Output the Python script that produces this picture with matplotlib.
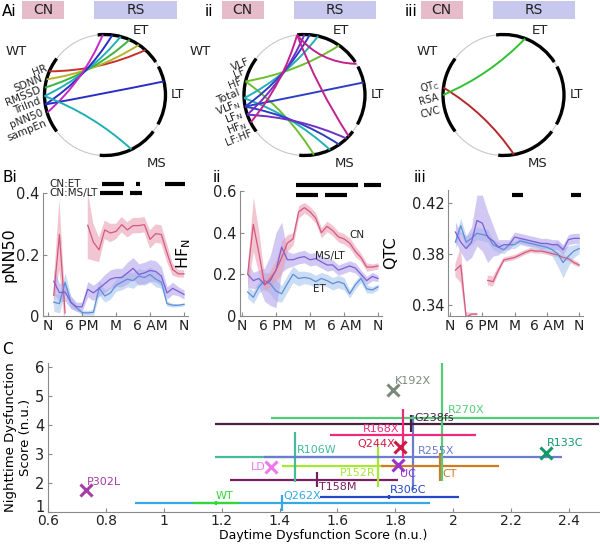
import numpy as np
import matplotlib.pyplot as plt
import matplotlib.transforms as mtransforms
from matplotlib.patches import Arc, Circle, PathPatch, Rectangle
from matplotlib.path import Path

nan = np.nan
W, H = 600, 544

# ---------------- A: chord diagrams ----------------
sectors = {'WT': (143, 217), 'ET': (33, 97), 'LT': (-29, 28), 'MS': (-95, -37)}

ai_labels = ['HR', 'SDNN', 'RMSSD', 'TriInd', 'pNN50', 'sampEn']
ai_links = [('HR', 48, '#c8302c'), ('SDNN', 56, '#b4b42a'), ('RMSSD', 66, '#3cb43c'),
            ('TriInd', 75, '#1eb0b4'), ('pNN50', 83, '#2a2ec4'), ('sampEn', 92, '#c42ac4'),
            ('pNN50', 13, '#2a2ec4'), ('TriInd', -64, '#1eb0b4')]

aii_labels = ['VLF', 'LF', 'HF', 'Total', r'VLF$_\mathregular{N}$', r'LF$_\mathregular{N}$',
              r'HF$_\mathregular{N}$', 'LF:HF']
aii_links = [('HF', 55, '#6cbf2c'), ('HF', -81, '#6cbf2c'),
             (r'VLF$_\mathregular{N}$', 77, '#22b0b8'), (r'VLF$_\mathregular{N}$', -65, '#22b0b8'),
             (r'LF$_\mathregular{N}$', 85, '#2e3ec4'), (r'LF$_\mathregular{N}$', 12, '#2e3ec4'),
             (r'LF$_\mathregular{N}$', -55, '#2e3ec4'),
             (r'HF$_\mathregular{N}$', 90, '#7030c4'), (r'HF$_\mathregular{N}$', -46, '#7030c4'),
             ('LF:HF', 97, '#c0228e'), (97, 31, '#c0228e'), (97, -43, '#c0228e')]

aiii_labels = [r'QT$_\mathregular{C}$', 'RSA', 'CVC']
aiii_links = [(r'QT$_\mathregular{C}$', -80, '#b82828'), ('RSA', 69, '#30c030')]

# ---------------- B: time courses ----------------
hours = list(range(1, 25))
tick_pos = [0, 6, 12, 18, 24]
tick_lab = ['N', '6 PM', 'M', '6 AM', 'N']

cn_pnn = [0.067, 0.265, 0.01, nan, nan, nan, 0.295, 0.24, 0.215, 0.28, 0.27, 0.275, 0.297, 0.28,
          0.294, 0.294, 0.297, 0.249, 0.268, 0.265, 0.205, 0.151, 0.137, 0.137]
cn_pnn_e = [0.04, 0.115, 0.05, nan, nan, nan, 0.11, 0.06, 0.04, 0.03, 0.03, 0.025, 0.025, 0.025,
            0.025, 0.025, 0.025, 0.03, 0.03, 0.03, 0.03, 0.02, 0.012, 0.012]
et_pnn = [0.045, 0.04, 0.11, 0.045, 0.027, 0.011, 0.01, 0.012, 0.092, 0.065, 0.075, 0.1, 0.11, 0.12,
          0.115, 0.13, 0.125, 0.135, 0.12, 0.11, 0.04, 0.035, 0.035, 0.038]
et_pnn_e = [0.03, 0.03, 0.03, 0.02, 0.01, 0.008, 0.008, 0.01, 0.025, 0.02, 0.02, 0.02, 0.025, 0.025,
            0.025, 0.025, 0.025, 0.025, 0.025, 0.02, 0.008, 0.006, 0.005, 0.005]
ms_pnn = [0.113, 0.076, 0.078, 0.045, 0.03, 0.03, 0.087, 0.075, 0.09, 0.105, 0.12, 0.125, 0.125, 0.14,
          0.155, 0.135, 0.14, 0.148, 0.145, 0.13, 0.075, 0.09, 0.08, 0.07]
ms_pnn_e = [0.04, 0.03, 0.03, 0.02, 0.015, 0.015, 0.025, 0.025, 0.025, 0.03, 0.03, 0.03, 0.03, 0.035,
            0.035, 0.035, 0.035, 0.035, 0.035, 0.03, 0.02, 0.02, 0.015, 0.015]

cn_hf = [0.2, 0.44, 0.3, 0.15, 0.18, 0.22, 0.28, 0.35, 0.37, 0.5, 0.52, 0.5, 0.47, 0.4, 0.43, 0.41,
         0.38, 0.37, 0.35, 0.31, 0.28, 0.235, 0.235, 0.24]
cn_hf_e = [0.06, 0.13, 0.1, 0.03, 0.04, 0.05, 0.08, 0.04, 0.03, 0.03, 0.025, 0.025, 0.025, 0.025,
           0.025, 0.025, 0.025, 0.025, 0.025, 0.025, 0.02, 0.02, 0.015, 0.015]
ms_hf = [0.2, 0.17, 0.18, 0.15, 0.17, 0.22, 0.33, 0.27, 0.27, 0.28, 0.285, 0.27, 0.275, 0.26, 0.245,
         0.245, 0.22, 0.23, 0.24, 0.23, 0.2, 0.17, 0.19, 0.18]
ms_hf_e = [0.06, 0.04, 0.04, 0.08, 0.12, 0.18, 0.12, 0.04, 0.03, 0.03, 0.03, 0.03, 0.03, 0.03, 0.03,
           0.025, 0.025, 0.025, 0.025, 0.025, 0.02, 0.02, 0.02, 0.015]
et_hf = [0.115, 0.09, 0.14, 0.17, 0.155, 0.12, 0.107, 0.155, 0.2, 0.18, 0.185, 0.18, 0.165, 0.18,
         0.17, 0.155, 0.165, 0.155, 0.107, 0.15, 0.18, 0.13, 0.125, 0.14]
et_hf_e = [0.03, 0.03, 0.03, 0.04, 0.05, 0.05, 0.04, 0.04, 0.04, 0.035, 0.03, 0.03, 0.03, 0.03, 0.03,
           0.03, 0.03, 0.03, 0.02, 0.02, 0.02, 0.02, 0.015, 0.015]

cn_qt = [0.367, 0.371, 0.33, 0.3325, 0.3325, nan, 0.359, 0.358, 0.367, 0.375, 0.376, 0.377, 0.379,
         0.381, 0.3826, 0.382, 0.382, 0.381, 0.38, 0.379, 0.377, 0.376, 0.373, 0.371]
cn_qt_e = [0.005, 0.014, 0.004, 0.001, 0.001, nan, 0.004, 0.004, 0.003, 0.002, 0.002, 0.002, 0.002,
           0.002, 0.002, 0.002, 0.002, 0.002, 0.002, 0.002, 0.002, 0.002, 0.002, 0.002]
et_qt = [0.389, 0.402, 0.389, 0.392, 0.396, 0.395, 0.394, 0.387, 0.385, 0.383, 0.387, 0.387, 0.39,
         0.389, 0.388, 0.387, 0.386, 0.385, 0.383, 0.38, 0.373, 0.378, 0.382, 0.384]
et_qt_e = [0.005, 0.006, 0.005, 0.005, 0.005, 0.005, 0.005, 0.004, 0.004, 0.003, 0.003, 0.003, 0.003,
           0.003, 0.003, 0.003, 0.003, 0.004, 0.005, 0.01, 0.012, 0.008, 0.005, 0.004]
ms_qt = [0.397, 0.389, 0.384, 0.389, 0.406, 0.404, 0.393, 0.39, 0.385, 0.387, 0.387, 0.393, 0.392,
         0.391, 0.39, 0.389, 0.388, 0.388, 0.387, 0.387, 0.383, 0.391, 0.392, 0.392]
ms_qt_e = [0.008, 0.008, 0.01, 0.012, 0.02, 0.022, 0.02, 0.012, 0.006, 0.004, 0.004, 0.004, 0.004,
           0.004, 0.004, 0.004, 0.004, 0.004, 0.004, 0.004, 0.004, 0.004, 0.004, 0.004]

sig_pnn = {'CN:ET': [(9.5, 13.4), (15.5, 16.2), (20.6, 24.2)], 'CN:MS/LT': [(9.2, 13.3), (14.5, 16.5)]}
sig_hf = [[(9.6, 20.5), (21.6, 24.6)], [(9.6, 13.4), (14.6, 18.6)]]
sig_qt = [[(11.6, 13.6), (22.5, 24.4)]]

# ---------------- C: dysfunction scores ----------------
c_names = ['Q262X', 'WT', 'R306C', 'T158M', 'P152R', 'R106W', 'R255X', 'CT', 'G238fs', 'R270X',
           'R168X', 'P302L', 'LD', 'K192X', 'Q244X', 'UC', 'R133C']
c_x = [1.41, 1.18, 1.78, 1.53, 1.74, 1.455, 1.862, 1.955, 1.855, 1.962, 1.828, 0.73, 1.372, 1.793,
       1.817, 1.81, 2.32]
c_y = [1.31, 1.31, 1.52, 2.1, 2.59, 2.9, 2.9, 2.59, 4.05, 4.24, 3.65, 1.75, 2.55, 5.2, 3.24, 2.62, 3.04]
c_xlo = [0.90, 1.10, 1.54, 1.23, 1.41, 1.176, 1.345, 1.75, 1.176, 1.369, 1.575, nan, nan, nan, nan, nan, nan]
c_xhi = [1.92, 1.26, 2.02, 1.81, 1.76, 1.75, 2.377, 2.16, 2.6, 2.6, 2.08, nan, nan, nan, nan, nan, nan]
c_ylo = [1.02, 1.25, 1.45, 1.86, 1.86, 2.03, 1.76, 2.07, 3.76, 2.07, 2.85, nan, nan, nan, nan, nan, nan]
c_yhi = [1.6, 1.37, 1.59, 2.38, 3.24, 3.77, 4.34, 3.03, 4.34, 6.4, 4.55, nan, nan, nan, nan, nan, nan]
c_colors = ['#35a8e6', '#35d635', '#2448cc', '#7a1f5f', '#a6e834', '#45bb9b', '#6c7cd0', '#d27a20',
            '#47203f', '#55cc78', '#ee2a7c', '#a63ca8', '#ee77ee', '#7a8a7a', '#cc1a44', '#9a33cc',
            '#119966']
# label offsets in points and alignment
c_lab_off = [(1, 5), (0, 5), (0, 5), (1, -5), (-2, -5), (1, 5), (3, 4.5), (1.5, -6), (2, 4),
             (4, 6), (-3, 4.5), (1, 6), (-4, 0), (1.5, 6.5), (-4, 2), (1, -6.5), (1, 7)]
c_lab_ha = ['left', 'left', 'left', 'left', 'right', 'left', 'left', 'left', 'left', 'left',
            'right', 'left', 'right', 'left', 'right', 'left', 'left']

# ---------------- drawing ----------------
fig = plt.figure(figsize=(W / 100, H / 100), dpi=100)
plt.rcParams['font.family'] = 'DejaVu Sans'


def px_rect(x0, y0, x1, y1):
    return [x0 / W, 1 - y1 / H, (x1 - x0) / W, (y1 - y0) / H]


R = 60.5


def unit(a):
    return np.array([np.cos(np.radians(a)), np.sin(np.radians(a))])


def chord_panel(cx, labels, links, a0, astep, t0, tstep, rot, fs, wt_x, ms_x):
    cy = 95
    ext = 1.75
    ax = fig.add_axes(px_rect(cx - ext * R, cy - ext * R, cx + ext * R, cy + ext * R))
    ax.set_xlim(-ext, ext)
    ax.set_ylim(-ext, ext)
    ax.axis('off')
    ax.add_patch(Circle((0, 0), 1, fill=False, ec='#c8c8c8', lw=0.8))
    for name, (t1, t2) in sectors.items():
        ax.add_patch(Arc((0, 0), 2, 2, theta1=t1, theta2=t2, color='black', lw=2.4))
    pos = {'WT': (wt_x, 0.72), 'ET': (0.6, 1.06), 'LT': (1.2, 0.0), 'MS': (ms_x, -1.13)}
    for name, (x, y) in pos.items():
        ax.text(x, y, name, fontsize=9.5, ha='center', va='center', color='#222222')
    start = {lab: a0 + astep * i for i, lab in enumerate(labels)}
    for i, lab in enumerate(labels):
        p = 1.07 * unit(t0 + tstep * i)
        ax.text(p[0], p[1], lab, fontsize=fs, ha='right', va='center', rotation=rot,
                rotation_mode='anchor', color='#222222')
    for src, dst, col in links:
        s = start[src] if isinstance(src, str) else src
        p0, p1 = unit(s), unit(dst)
        ctrl = 0.35 * (p0 + p1)
        path = Path([p0, ctrl, p1], [Path.MOVETO, Path.CURVE3, Path.CURVE3])
        ax.add_patch(PathPatch(path, fc='none', ec=col, lw=1.4))
    ax.add_patch(Rectangle((-1.37, 1.25), 0.70, 0.31, fc='#e6bccb', ec='none'))
    ax.add_patch(Rectangle((-0.18, 1.25), 1.37, 0.31, fc='#c8c8ef', ec='none'))
    ax.text(-1.02, 1.405, 'CN', fontsize=10, ha='center', va='center', color='#222222')
    ax.text(0.505, 1.405, 'RS', fontsize=10, ha='center', va='center', color='#222222')


chord_panel(105, ai_labels, ai_links, 157, 8, 155, 10, 22, 7.5, -1.46, 0.85)
chord_panel(304.5, aii_labels, aii_links, 151, 8, 149, 9.5, 22, 7.5, -1.72, 0.67)
chord_panel(503.5, aiii_labels, aiii_links, 173, 7, 170, 11.5, 15, 7, -1.26, 0.56)

fig.text(2 / W, 1 - 12 / H, 'Ai', fontsize=11, va='center')
fig.text(205 / W, 1 - 12 / H, 'ii', fontsize=11, va='center')
fig.text(405 / W, 1 - 12 / H, 'iii', fontsize=11, va='center')
fig.text(2 / W, 1 - 177 / H, 'Bi', fontsize=11, va='center')
fig.text(213 / W, 1 - 177 / H, 'ii', fontsize=11, va='center')
fig.text(414 / W, 1 - 177 / H, 'iii', fontsize=11, va='center')
fig.text(2 / W, 1 - 350 / H, 'C', fontsize=11, va='center')

CN_C = ('#d4587e', '#e8a0b4')
ET_C = ('#5b8fd9', '#a9c6ee')
MS_C = ('#7b5fd6', '#b3a6ec')


def style(ax, xsize=10.5, ysize=10.5):
    for s in ['top', 'right']:
        ax.spines[s].set_visible(False)
    for s in ['left', 'bottom']:
        ax.spines[s].set_color('#8a8a8a')
        ax.spines[s].set_linewidth(0.8)
    ax.tick_params(colors='#8a8a8a', labelcolor='#222222', direction='in', length=3,
                   labelsize=ysize, pad=2.5)
    ax.tick_params(axis='x', labelsize=xsize)


def band(ax, m, e, cols):
    m = np.array(m)
    e = np.array(e)
    ax.fill_between(hours, m - e, m + e, color=cols[1], alpha=0.6, lw=0)
    ax.plot(hours, m, color=cols[0], lw=0.9)


def b_axes(rect, xlim, ylim, yt, ytl, ylabel, lab_x):
    ax = fig.add_axes(rect)
    ax.set_xlim(*xlim)
    ax.set_ylim(*ylim)
    ax.set_xticks(tick_pos)
    ax.set_xticklabels(tick_lab)
    ax.set_yticks(yt)
    ax.set_yticklabels(ytl)
    ax.set_ylabel(ylabel, fontsize=11.5)
    ax.yaxis.set_label_coords(lab_x, 0.5)
    style(ax, 10)
    return ax


# Bi
ax1 = b_axes(px_rect(43, 193, 188, 316), (-0.9, 24.7), (0, 0.4), [0, 0.2, 0.4], ['0', '0.2', '0.4'],
             'pNN50', -0.18)
band(ax1, cn_pnn, cn_pnn_e, CN_C)
band(ax1, et_pnn, et_pnn_e, ET_C)
band(ax1, ms_pnn, ms_pnn_e, MS_C)
for (lab, segs), yy in zip(sig_pnn.items(), [0.428, 0.4]):
    ax1.text(0.2, yy, lab, fontsize=7.5, ha='left', va='center', color='#222222')
    for a, b in segs:
        ax1.plot([a, b], [yy, yy], color='black', lw=3, solid_capstyle='butt', clip_on=False)

# Bii
ax2 = b_axes(px_rect(240, 191, 382, 316), (-0.35, 24.7), (0, 0.6), [0, 0.2, 0.4, 0.6],
             ['0', '0.2', '0.4', '0.6'], r'HF$_\mathregular{N}$', -0.33)
band(ax2, et_hf, et_hf_e, ET_C)
band(ax2, ms_hf, ms_hf_e, MS_C)
band(ax2, cn_hf, cn_hf_e, CN_C)
for segs, yy in zip(sig_hf, [0.627, 0.582]):
    for a, b in segs:
        ax2.plot([a, b], [yy, yy], color='black', lw=3, solid_capstyle='butt', clip_on=False)
ax2.text(20.2, 0.387, 'CN', fontsize=7.5, ha='center', va='center', color='#222222')
ax2.text(15.5, 0.286, 'MS/LT', fontsize=7.5, ha='center', va='center', color='#222222')
ax2.text(13.7, 0.13, 'ET', fontsize=7.5, ha='center', va='center', color='#222222')

# Biii
ax3 = b_axes(px_rect(448, 190, 583, 316), (-0.37, 24.7), (0.331, 0.43), [0.34, 0.38, 0.42],
             ['0.34', '0.38', '0.42'], 'QTC', -0.37)
band(ax3, cn_qt, cn_qt_e, CN_C)
band(ax3, et_qt, et_qt_e, ET_C)
band(ax3, ms_qt, ms_qt_e, MS_C)
for segs in sig_qt:
    for a, b in segs:
        ax3.plot([a, b], [0.426, 0.426], color='black', lw=3, solid_capstyle='butt', clip_on=False)

# C
axc = fig.add_axes(px_rect(48, 363, 599, 512))
axc.set_xlim(0.6, 2.504)
axc.set_ylim(1, 6.15)
axc.set_xticks([0.6, 0.8, 1.0, 1.2, 1.4, 1.6, 1.8, 2.0, 2.2, 2.4])
axc.set_xticklabels(['0.6', '0.8', '1', '1.2', '1.4', '1.6', '1.8', '2', '2.2', '2.4'])
axc.set_yticks([1, 2, 3, 4, 5, 6])
axc.set_yticklabels(['1', '2', '3', '4', '5', '6'])
style(axc, 10, 10.5)
axc.tick_params(axis='x', pad=1.5)
first = axc.get_yticklabels()[0]
first.set_transform(first.get_transform() +
                    mtransforms.ScaledTranslation(0, 4 / 72, fig.dpi_scale_trans))
axc.set_xlabel('Daytime Dysfunction Score (n.u.)', fontsize=9)
axc.xaxis.set_label_coords(0.5, -0.116)
axc.set_ylabel('Nighttime Dysfunction\nScore (n.u.)', fontsize=9.5, labelpad=2)
for i, name in enumerate(c_names):
    x, y, col = c_x[i], c_y[i], c_colors[i]
    if np.isnan(c_xlo[i]):
        axc.plot(x, y, marker='x', ms=8, mew=2.2, color=col, ls='none')
    else:
        axc.errorbar(x, y, xerr=[[x - c_xlo[i]], [c_xhi[i] - x]],
                     yerr=[[y - c_ylo[i]], [c_yhi[i] - y]], color=col, lw=1.6, capsize=0)
    axc.annotate(name, (x, y), xytext=c_lab_off[i], textcoords='offset points',
                 ha=c_lab_ha[i], va='center', fontsize=8, color=col)

fig.savefig('out.png', dpi=100)
